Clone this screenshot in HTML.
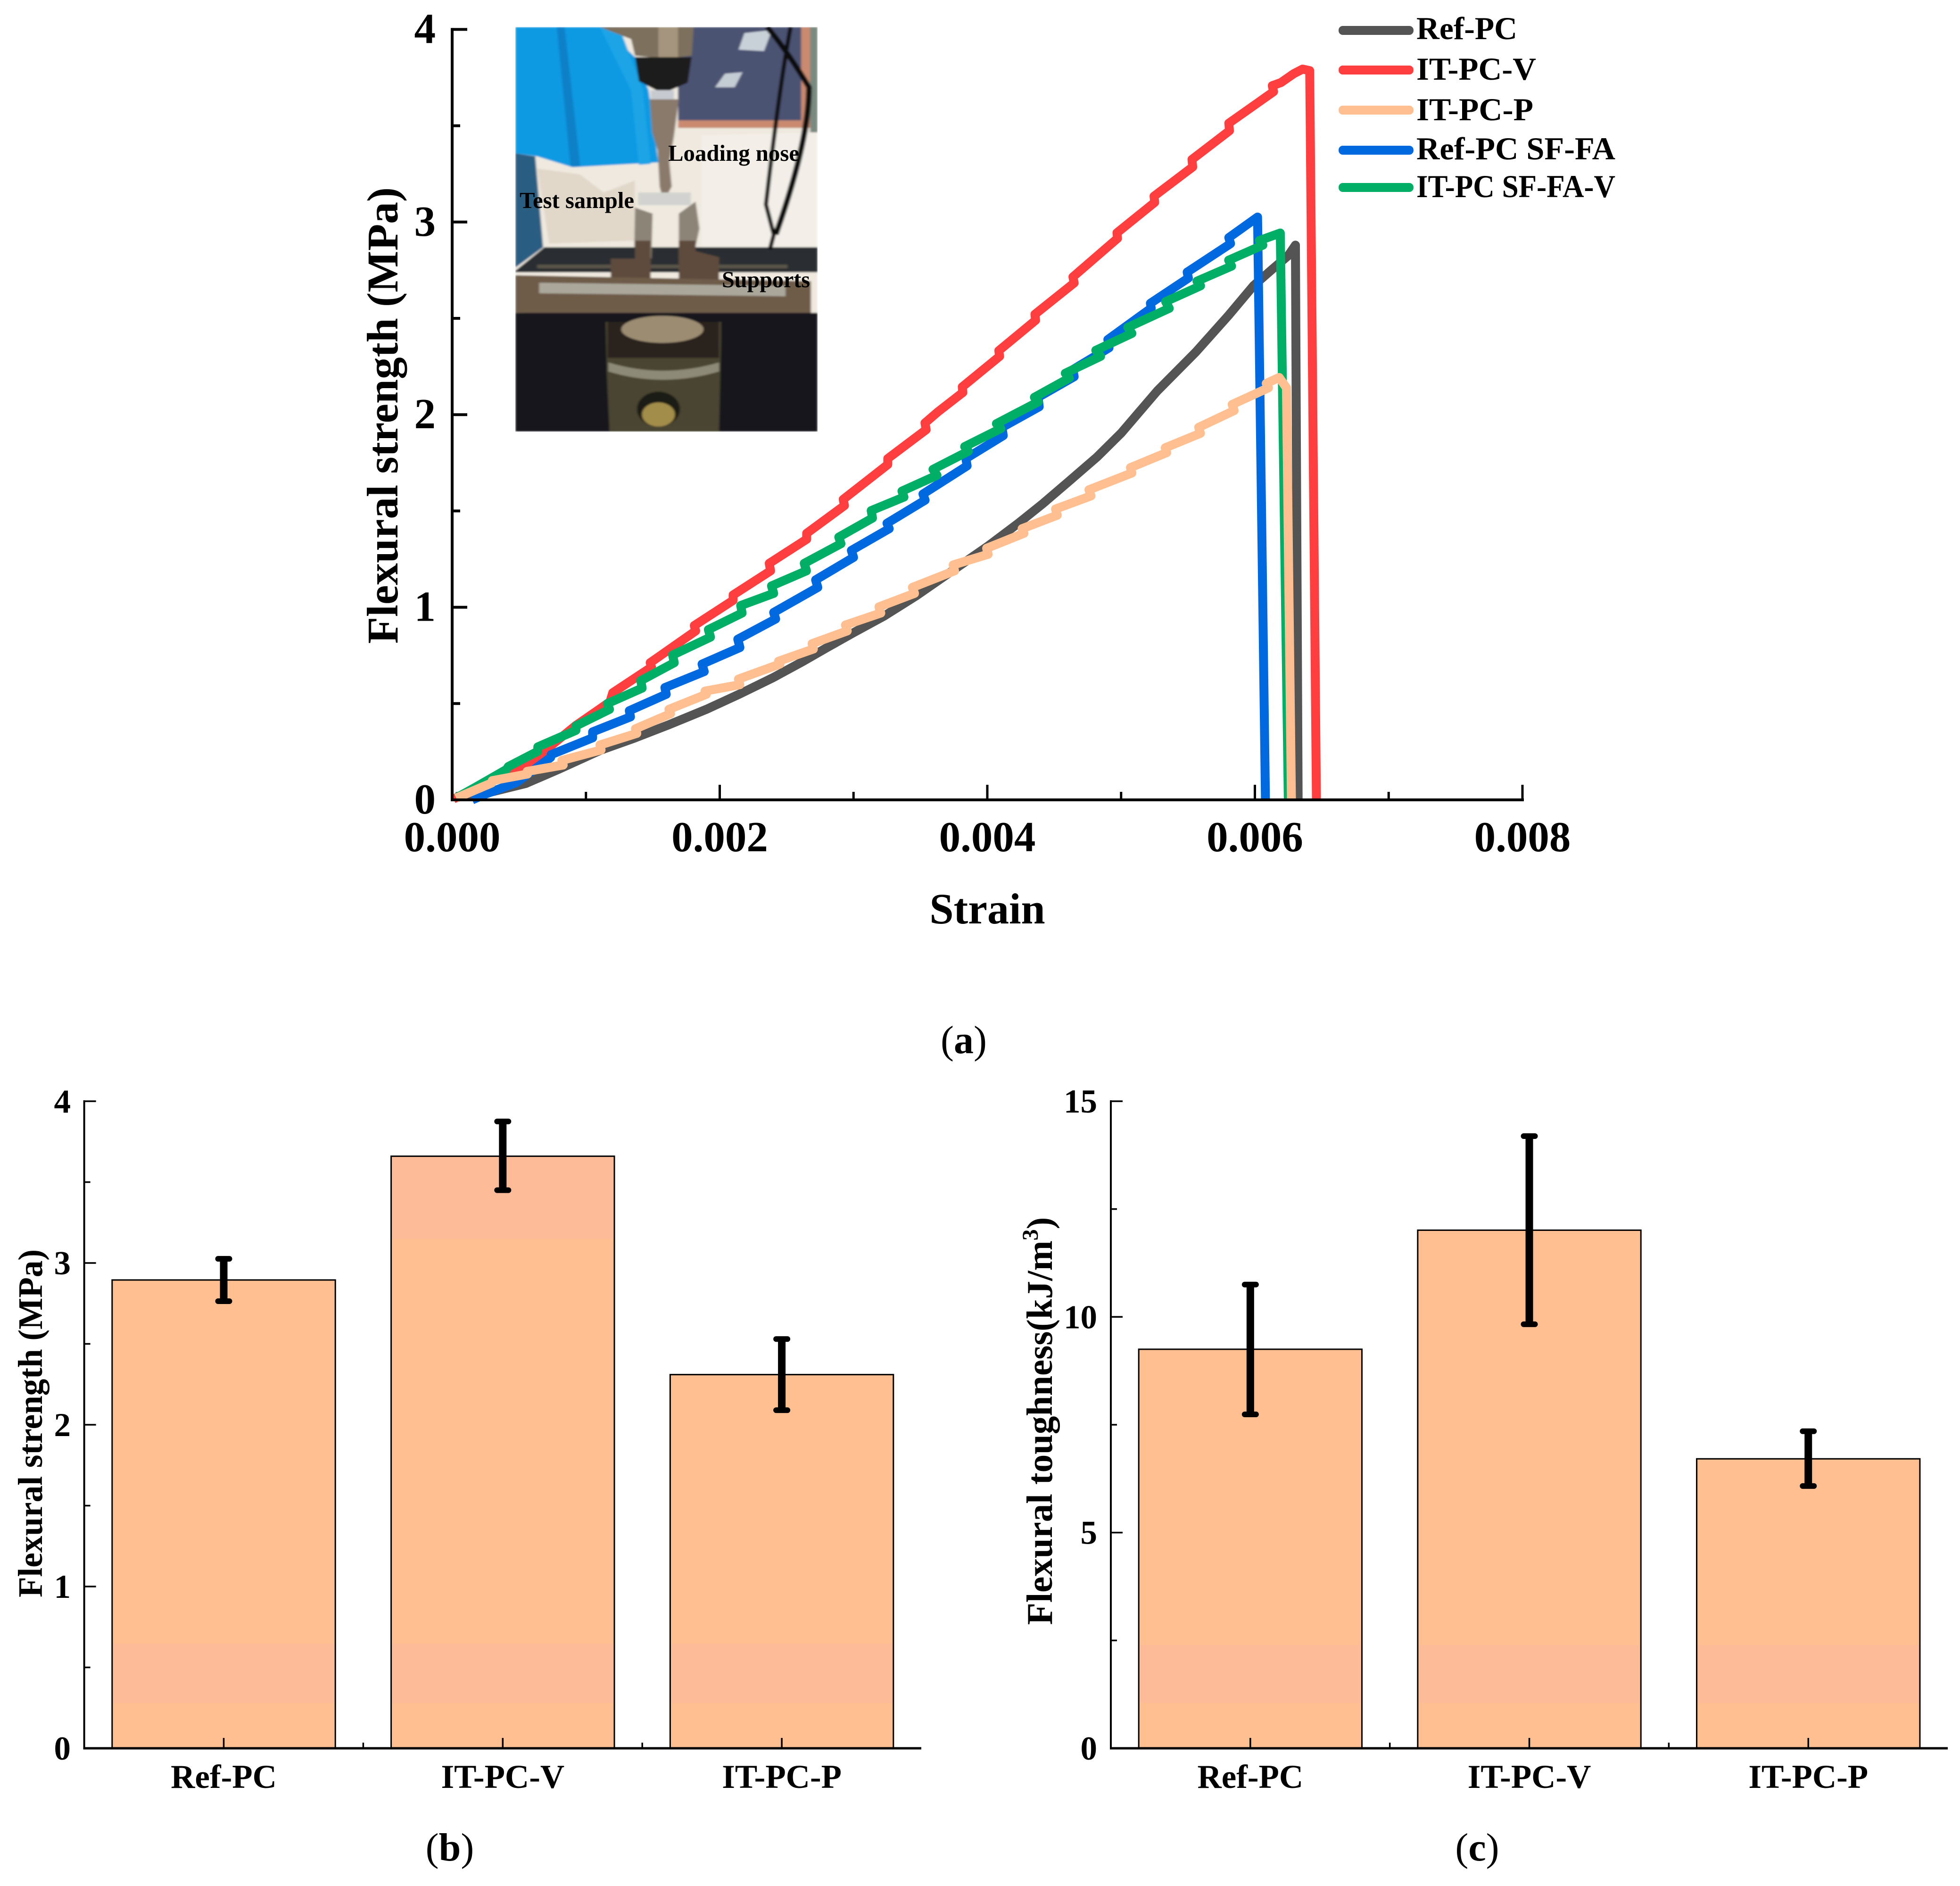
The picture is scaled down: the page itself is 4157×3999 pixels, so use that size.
<!DOCTYPE html>
<html lang="en">
<head>
<meta charset="utf-8">
<title>Flexural strength and toughness charts</title>
<style>
html,body{margin:0;padding:0;background:#fff;}
svg{display:block;}
text{font-family:"Liberation Serif",serif;font-weight:bold;fill:#000;}
</style>
</head>
<body>
<svg id="figure" xmlns="http://www.w3.org/2000/svg" width="4157" height="3999" viewBox="0 0 4157 3999">
<defs>
<clipPath id="photoClip"><rect x="474" y="90" width="773" height="1345"/></clipPath>
<filter id="soft" x="-5%" y="-5%" width="110%" height="110%"><feGaussianBlur stdDeviation="3"/></filter>
</defs>
<rect width="4157" height="3999" fill="#fff"/>

<!-- inset photo, drawn with vector shapes -->
<g transform="translate(700,0) scale(0.8292,0.6378)" clip-path="url(#photoClip)">
<g filter="url(#soft)">
<rect x="474" y="90" width="773" height="1345" fill="#efe9df"/>
<path d="M530 560 L640 580 L700 640 L780 600 L780 800 L560 810 Z" fill="#e2d8ca"/>
<path d="M950 450 L1247 440 L1247 830 L950 830 Z" fill="#f3efe8"/>
<path d="M474 90 H700 L780 190 L815 300 L840 540 L620 556 L530 520 L474 510 Z" fill="#0a9ae2"/>
<path d="M580 90 H600 L640 553 L615 553 Z" fill="#0880c8"/>
<path d="M690 90 H740 L800 300 L820 545 L790 548 L770 300 Z" fill="#1aa4e6"/>
<path d="M890 90 H1247 V425 H890 Z" fill="#4b5373"/>
<path d="M1060 110 L1130 100 L1110 170 L1045 165 Z" fill="#c8d0d8"/>
<path d="M1010 245 L1055 240 L1035 290 L985 290 Z" fill="#c4ccd4"/>
<path d="M890 400 H1205 V90 H1228 V425 H890 Z" fill="#c98a70"/>
<rect x="1228" y="90" width="19" height="350" fill="#7a8a80"/>
<path d="M690 90 H930 L925 185 L860 195 L780 185 L770 130 Z" fill="#7d705d"/>
<rect x="840" y="90" width="50" height="100" fill="#a5957e"/>
<path d="M780 190 L925 190 L915 275 L870 300 L835 300 L790 270 Z" fill="#1f1d1f"/>
<rect x="820" y="300" width="60" height="30" fill="#c7cbd0"/>
<path d="M818 330 H892 L880 450 L868 540 L874 620 L853 670 L843 620 L838 500 L824 440 Z" fill="#8a7a6c"/>
<path d="M474 510 L525 520 L545 822 L474 890 Z" fill="#2b5d82"/>
<path d="M474 900 L548 822 H1247 V905 H474 Z" fill="#2b2d32"/>
<rect x="530" y="880" width="640" height="12" fill="#5a5448"/>
<rect x="788" y="640" width="135" height="42" fill="#d2d3d0"/>
<path d="M780 690 L825 710 L822 860 L778 820 Z" fill="#8d8478"/>
<path d="M892 710 L935 670 L945 760 L935 820 L892 860 Z" fill="#8d8478"/>
<path d="M718 860 H780 V800 H820 V935 H718 Z" fill="#5e4c3c"/>
<path d="M892 800 H935 V835 L995 855 V935 H892 Z" fill="#5e4c3c"/>
<path d="M474 915 L1230 935 V1050 L474 1040 Z" fill="#6e5c4a"/>
<path d="M535 940 L1165 950 V985 L535 975 Z" fill="#aba79b"/>
<rect x="474" y="1040" width="773" height="395" fill="#14171e"/>
<path d="M705 1070 H1000 V1130 L995 1435 H715 L708 1240 Z" fill="#4a4532"/>
<path d="M710 1070 H995 V1190 H710 Z" fill="#2a211c"/>
<ellipse cx="850" cy="1095" rx="105" ry="45" fill="#9b8c72"/>
<path d="M712 1205 Q850 1260 995 1205 V1235 Q850 1290 712 1235 Z" fill="#8d8a78"/>
<ellipse cx="840" cy="1360" rx="55" ry="58" fill="#1e1a12"/>
<ellipse cx="840" cy="1378" rx="42" ry="40" fill="#a38d4c"/>
<path d="M1118 90 Q1170 170 1225 290 Q1225 470 1140 780" fill="none" stroke="#111" stroke-width="15"/>
<path d="M1178 90 Q1150 280 1115 680 L1135 780 L1125 830" fill="none" stroke="#111" stroke-width="11"/>
</g>
</g>
<text x="1417" y="341" font-size="49" textLength="278" lengthAdjust="spacingAndGlyphs">Loading nose</text>
<text x="1102" y="441" font-size="49" textLength="243" lengthAdjust="spacingAndGlyphs">Test sample</text>
<text x="1531" y="609" font-size="49" textLength="187" lengthAdjust="spacingAndGlyphs">Supports</text>

<!-- chart (a) static text -->
<text x="0" y="0" font-size="93" text-anchor="middle" transform="translate(843,881) rotate(-90)" textLength="968" lengthAdjust="spacingAndGlyphs">Flexural strength (MPa)</text>
<text x="2094" y="1958" font-size="92" text-anchor="middle">Strain</text>
<text x="2044" y="2233" font-size="84" text-anchor="middle"><tspan font-weight="normal">(</tspan>a<tspan font-weight="normal">)</tspan></text>

<!-- legend -->
<g>
<rect x="2839" y="55" width="159" height="19" rx="9" fill="#545454"/>
<text x="3004" y="83" font-size="68" textLength="214" lengthAdjust="spacingAndGlyphs">Ref-PC</text>
<rect x="2839" y="139" width="159" height="19" rx="9" fill="#ff3f3f"/>
<text x="3004" y="169" font-size="68" textLength="254" lengthAdjust="spacingAndGlyphs">IT-PC-V</text>
<rect x="2839" y="224" width="159" height="19" rx="9" fill="#ffbf90"/>
<text x="3004" y="255" font-size="68" textLength="248" lengthAdjust="spacingAndGlyphs">IT-PC-P</text>
<rect x="2839" y="309" width="159" height="19" rx="9" fill="#0069e0"/>
<text x="3004" y="338" font-size="68" textLength="422" lengthAdjust="spacingAndGlyphs">Ref-PC SF-FA</text>
<rect x="2839" y="388" width="159" height="19" rx="9" fill="#00ae66"/>
<text x="3004" y="418" font-size="68" textLength="422" lengthAdjust="spacingAndGlyphs">IT-PC SF-FA-V</text>
</g>

<!-- charts (b), (c) static text -->
<text x="0" y="0" font-size="73" text-anchor="middle" transform="translate(89,3018) rotate(-90)" textLength="738" lengthAdjust="spacingAndGlyphs">Flexural strength (MPa)</text>
<text x="954" y="3945" font-size="84" text-anchor="middle"><tspan font-weight="normal">(</tspan>b<tspan font-weight="normal">)</tspan></text>
<text x="0" y="0" font-size="77" text-anchor="middle" transform="translate(2231,3013) rotate(-90)">Flexural toughness(kJ/m<tspan font-size="48" dy="-30">3</tspan><tspan dy="30">)</tspan></text>
<text x="3133" y="3945" font-size="84" text-anchor="middle"><tspan font-weight="normal">(</tspan>c<tspan font-weight="normal">)</tspan></text>

<g id="marks"></g>
</svg>

<script>
// ---------- Chart (a): strain is stored in units of 10^-3, stress in MPa ----------
const refPcStrain = [0.03,0.30,0.55,0.80,1.11,1.36,1.62,1.90,2.15,2.40,2.62,2.80,3.00,3.23,3.47,3.74,4.01,4.23,4.41,4.62,4.82,5.00,5.27,5.56,5.80,5.99,6.13,6.25,6.303,6.323];
const refPcStress = [0.017,0.042,0.085,0.160,0.258,0.320,0.390,0.470,0.550,0.635,0.718,0.790,0.868,0.955,1.060,1.190,1.320,1.435,1.535,1.660,1.780,1.904,2.123,2.326,2.513,2.670,2.755,2.826,2.880,0];

const itPcVStrain = [0.01,0.17,0.42,0.67,0.70,0.92,1.18,1.20,1.49,1.48,1.82,1.81,2.10,2.10,2.38,2.37,2.65,2.65,2.932,2.923,3.256,3.256,3.543,3.534,3.633,3.817,3.813,4.092,4.086,4.361,4.356,4.649,4.640,4.973,4.969,5.251,5.246,5.535,5.53,5.81,5.805,6.14,6.13,6.195,6.29,6.357,6.41,6.46];
const itPcVStress = [0.005,0.056,0.134,0.228,0.259,0.384,0.509,0.556,0.689,0.712,0.877,0.905,1.036,1.064,1.189,1.228,1.353,1.384,1.528,1.560,1.741,1.772,1.922,1.957,2.016,2.115,2.144,2.303,2.332,2.490,2.521,2.684,2.715,2.915,2.944,3.102,3.134,3.286,3.325,3.474,3.513,3.677,3.708,3.724,3.770,3.794,3.786,0];

const refSfStrain = [0.15,0.25,0.48,0.736,0.74,1.05,1.05,1.333,1.324,1.60,1.59,1.884,1.868,2.151,2.135,2.418,2.403,2.733,2.717,3.0,2.984,3.267,3.25,3.535,3.519,3.849,3.84,4.119,4.11,4.388,4.38,4.649,4.64,4.91,4.901,5.225,5.219,5.503,5.494,5.818,5.805,6.02,6.079];
const refSfStress = [0.0,0.03,0.09,0.220,0.235,0.322,0.353,0.431,0.463,0.548,0.583,0.666,0.705,0.791,0.834,0.939,0.973,1.103,1.142,1.259,1.295,1.408,1.436,1.556,1.588,1.734,1.772,1.891,1.934,2.041,2.090,2.197,2.234,2.347,2.390,2.553,2.578,2.709,2.740,2.888,2.919,3.026,0];

const itSfVStrain = [0.03,0.17,0.406,0.42,0.64,0.64,0.925,0.925,1.176,1.16,1.42,1.41,1.66,1.648,1.931,1.915,2.167,2.157,2.403,2.387,2.648,2.632,2.906,2.89,3.142,3.132,3.377,3.362,3.624,3.594,3.858,3.831,4.101,4.068,4.38,4.352,4.613,4.583,4.847,4.811,5.081,5.05,5.36,5.333,5.594,5.567,5.826,5.804,6.06,6.034,6.19,6.25];
const itSfVStress = [0.01,0.064,0.158,0.173,0.252,0.275,0.361,0.384,0.47,0.50,0.58,0.619,0.712,0.752,0.845,0.884,0.97,1.009,1.072,1.111,1.189,1.228,1.33,1.364,1.463,1.502,1.572,1.603,1.685,1.716,1.81,1.834,1.928,1.953,2.066,2.09,2.19,2.215,2.303,2.334,2.422,2.453,2.552,2.587,2.669,2.693,2.771,2.802,2.88,2.904,2.943,0];

const itPPStrain = [0.03,0.296,0.30,0.563,0.56,0.83,0.82,1.113,1.105,1.38,1.37,1.632,1.62,1.90,1.89,2.15,2.14,2.45,2.44,2.70,2.69,2.953,2.94,3.204,3.19,3.456,3.44,3.755,3.745,4.006,3.995,4.274,4.26,4.523,4.51,4.775,4.76,5.081,5.07,5.341,5.33,5.593,5.58,5.845,5.83,6.101,6.085,6.182,6.236,6.273];
const itPPStress = [0.009,0.088,0.100,0.134,0.148,0.181,0.205,0.259,0.285,0.345,0.369,0.447,0.47,0.548,0.565,0.598,0.627,0.705,0.72,0.783,0.811,0.877,0.908,0.97,1.002,1.072,1.103,1.189,1.22,1.275,1.306,1.384,1.408,1.478,1.51,1.578,1.61,1.697,1.725,1.803,1.828,1.903,1.934,2.021,2.053,2.139,2.162,2.193,2.139,0];

const aXMajorTicks = [0,2,4,6,8];
const aXMinorTicks = [1,3,5,7];
const aXTickLabels = ['0.000','0.002','0.004','0.006','0.008'];
const aYMajorTicks = [0,1,2,3,4];
const aYMinorTicks = [0.5,1.5,2.5,3.5];
const aYTickLabels = ['0','1','2','3','4'];

// ---------- Charts (b) and (c) ----------
const categories = ['Ref-PC','IT-PC-V','IT-PC-P'];

const strengthMeans = [2.895,3.66,2.31];
const strengthErrLow = [2.764,3.45,2.09];
const strengthErrHigh = [3.026,3.875,2.53];
const strengthTintBar = [0,1,2,1];
const strengthTintLow = [0.28,0.28,0.28,3.149];
const strengthTintHigh = [0.653,0.653,0.653,3.66];
const strengthMajorTicks = [0,1,2,3,4];
const strengthMinorTicks = [0.5,1.5,2.5,3.5];
const strengthTickLabels = ['0','1','2','3','4'];

const toughnessMeans = [9.25,12.01,6.71];
const toughnessErrLow = [7.74,9.83,6.08];
const toughnessErrHigh = [10.75,14.19,7.35];
const toughnessTintBar = [0,1,2];
const toughnessTintLow = [1.05,1.05,1.05];
const toughnessTintHigh = [2.42,2.42,2.42];
const toughnessMajorTicks = [0,5,10,15];
const toughnessMinorTicks = [2.5,7.5,12.5];
const toughnessTickLabels = ['0','5','10','15'];

const NS = 'http://www.w3.org/2000/svg';
const root = document.getElementById('marks');

function make(tag, attrs, name, text) {
  const el = document.createElementNS(NS, tag);
  for (const k in attrs) el.setAttribute(k, attrs[k]);
  
  
  if (text !== undefined) el.textContent = text;
  root.appendChild(el);
  return el;
}

// ----- chart (a) scales -----
const ax = v => 959 + v * 283.75;
const ay = v => 1696 - v * 408.4;

function series(xs, ys, color, name) {
  const d = xs.map((x, i) => (i ? 'L' : 'M') + ax(x).toFixed(1) + ' ' + ay(ys[i]).toFixed(1)).join(' ');
  make('path', {d: d, fill: 'none', stroke: color, 'stroke-width': 19, 'stroke-linejoin': 'round', 'stroke-linecap': 'butt'}, name);
}
series(refPcStrain, refPcStress, '#545454', 'series-ref-pc');
series(itPcVStrain, itPcVStress, '#ff3f3f', 'series-it-pc-v');
series(refSfStrain, refSfStress, '#0069e0', 'series-ref-pc-sf-fa');
series(itSfVStrain, itSfVStress, '#00ae66', 'series-it-pc-sf-fa-v');
series(itPPStrain, itPPStress, '#ffbf90', 'series-it-pc-p');

make('line', {x1: ax(0), x2: ax(0), y1: ay(4) - 3, y2: ay(0) + 3, stroke: '#000', 'stroke-width': 6}, 'chart-a-y-axis');
make('line', {x1: ax(0) - 3, x2: ax(8) + 3, y1: ay(0), y2: ay(0), stroke: '#000', 'stroke-width': 6}, 'chart-a-x-axis');
aXMajorTicks.forEach((t, i) => {
  make('line', {x1: ax(t), x2: ax(t), y1: ay(0), y2: ay(0) - 32, stroke: '#000', 'stroke-width': 5}, 'chart-a-x-major-tick');
  make('text', {x: ax(t), y: 1805, 'font-size': 91, 'text-anchor': 'middle'}, 'chart-a-x-tick-label', aXTickLabels[i]);
});
aXMinorTicks.forEach(t => {
  make('line', {x1: ax(t), x2: ax(t), y1: ay(0), y2: ay(0) - 17, stroke: '#000', 'stroke-width': 5}, 'chart-a-x-minor-tick');
});
aYMajorTicks.forEach((t, i) => {
  make('line', {x1: ax(0), x2: ax(0) + 32, y1: ay(t), y2: ay(t), stroke: '#000', 'stroke-width': 6}, 'chart-a-y-major-tick');
  make('text', {x: 924, y: ay(t) + 29, 'font-size': 91, 'text-anchor': 'end'}, 'chart-a-y-tick-label', aYTickLabels[i]);
});
aYMinorTicks.forEach(t => {
  make('line', {x1: ax(0), x2: ax(0) + 17, y1: ay(t), y2: ay(t), stroke: '#000', 'stroke-width': 6}, 'chart-a-y-minor-tick');
});

// ----- bar charts -----
function barChart(p) {
  const bx = c => p.left + (c + 0.5) * p.step;
  const by = v => 3707 - v * p.unit;
  const barW = p.step * 0.8;
  p.means.forEach((m, i) => {
    make('rect', {x: bx(i) - barW / 2, y: by(m), width: barW, height: by(0) - by(m), fill: '#ffbf90', stroke: '#000', 'stroke-width': 3}, p.id + '-bar-' + categories[i].toLowerCase());
  });
  p.tintBar.forEach((b, i) => {
    make('rect', {x: bx(b) - barW / 2 + 2, y: by(p.tintHigh[i]) + 2, width: barW - 4, height: by(p.tintLow[i]) - by(p.tintHigh[i]) - 2, fill: '#febb98'}, p.id + '-bar-tint');
  });
  make('line', {x1: p.left, x2: p.left, y1: by(p.majors[p.majors.length - 1]) - 2, y2: by(0) + 2, stroke: '#000', 'stroke-width': 4}, p.id + '-y-axis');
  make('line', {x1: p.left - 2, x2: p.left + 3 * p.step, y1: by(0), y2: by(0), stroke: '#000', 'stroke-width': 5}, p.id + '-x-axis');
  p.majors.forEach((t, i) => {
    make('line', {x1: p.left, x2: p.left + 25, y1: by(t), y2: by(t), stroke: '#000', 'stroke-width': 3.5}, p.id + '-y-major-tick');
    make('text', {x: p.labelRight, y: by(t) + 24, 'font-size': 71, 'text-anchor': 'end'}, p.id + '-y-tick-label', p.labels[i]);
  });
  p.minors.forEach(t => {
    make('line', {x1: p.left, x2: p.left + 13, y1: by(t), y2: by(t), stroke: '#000', 'stroke-width': 3.5}, p.id + '-y-minor-tick');
  });
  categories.forEach((c, i) => {
    make('line', {x1: bx(i), x2: bx(i), y1: by(0), y2: by(0) - 22, stroke: '#000', 'stroke-width': 3.5}, p.id + '-x-major-tick');
    make('text', {x: bx(i), y: 3791, 'font-size': 71, 'text-anchor': 'middle'}, p.id + '-x-tick-label', c);
    if (i > 0) {
      make('line', {x1: bx(i) - p.step / 2, x2: bx(i) - p.step / 2, y1: by(0), y2: by(0) - 12, stroke: '#000', 'stroke-width': 3.5}, p.id + '-x-minor-tick');
    }
    const cap = {stroke: '#000', 'stroke-width': 12, 'stroke-linecap': 'round'};
    make('line', {x1: bx(i), x2: bx(i), y1: by(p.errHigh[i]), y2: by(p.errLow[i]), stroke: '#000', 'stroke-width': 16}, p.id + '-error-bar-stem');
    make('line', Object.assign({x1: bx(i) - 12, x2: bx(i) + 12, y1: by(p.errHigh[i]), y2: by(p.errHigh[i])}, cap), p.id + '-error-bar-top-cap');
    make('line', Object.assign({x1: bx(i) - 12, x2: bx(i) + 12, y1: by(p.errLow[i]), y2: by(p.errLow[i])}, cap), p.id + '-error-bar-bottom-cap');
  });
}

barChart({id: 'chart-b', left: 178.6, step: 591.8, unit: 343, labelRight: 150,
  means: strengthMeans, errLow: strengthErrLow, errHigh: strengthErrHigh,
  tintBar: strengthTintBar, tintLow: strengthTintLow, tintHigh: strengthTintHigh,
  majors: strengthMajorTicks, minors: strengthMinorTicks, labels: strengthTickLabels});

barChart({id: 'chart-c', left: 2356, step: 591.7, unit: 91.47, labelRight: 2327,
  means: toughnessMeans, errLow: toughnessErrLow, errHigh: toughnessErrHigh,
  tintBar: toughnessTintBar, tintLow: toughnessTintLow, tintHigh: toughnessTintHigh,
  majors: toughnessMajorTicks, minors: toughnessMinorTicks, labels: toughnessTickLabels});
</script>
</body>
</html>
